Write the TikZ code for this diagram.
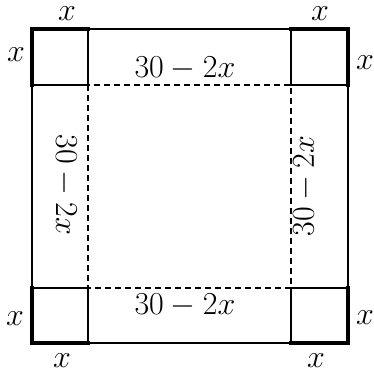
\RequirePackage{fix-cm}
\documentclass[tikz,border=0pt]{standalone}
\begin{document}
\begin{tikzpicture}[x=1pt,y=-1pt,
  thinline/.style={line width=2pt},
  thickline/.style={line width=3.6pt},
  dashline/.style={line width=1.8pt, dash pattern=on 6pt off 4pt},
  lbl/.style={inner sep=0pt, font=\fontsize{32}{38}\selectfont},
  xl/.style={inner sep=0pt, font=\fontsize{32}{38}\selectfont}]
\useasboundingbox (0,0) rectangle (373,378);
% outer square
\draw[thinline] (32,29) rectangle (348,343);
% inner dashed square
\draw[dashline] (88,85) rectangle (291,288);
% corner squares
\draw[thinline] (32,29) rectangle (88,85);
\draw[thinline] (291,29) rectangle (348,85);
\draw[thinline] (32,288) rectangle (88,343);
\draw[thinline] (291,288) rectangle (348,343);
% thick outer edges of corners
\draw[thickline, line cap=rect] (32,85) -- (32,29) -- (88,29);
\draw[thickline, line cap=rect] (291,29) -- (348,29) -- (348,85);
\draw[thickline, line cap=rect] (32,288) -- (32,343) -- (88,343);
\draw[thickline, line cap=rect] (291,343) -- (348,343) -- (348,288);
% side labels
\node[lbl] (top) at (185,68.5) {$30-2x$};
\node[lbl] (bot) at (185,305.5) {$30-2x$};
\node[lbl, rotate=-90] (left) at (65,185) {$30-2x$};
\node[lbl, rotate=90] (right) at (305,186) {$30-2x$};
% corner labels
\node[xl] (tlt) at (67,13.5) {$x$};
\node[xl] (tll) at (16,55) {$x$};
\node[xl] (trt) at (320,13.5) {$x$};
\node[xl] (trr) at (365,63) {$x$};
\node[xl] (bll) at (15,319) {$x$};
\node[xl] (blb) at (62,361) {$x$};
\node[xl] (brr) at (365,318) {$x$};
\node[xl] (brb) at (316,361) {$x$};
\end{tikzpicture}
\end{document}
